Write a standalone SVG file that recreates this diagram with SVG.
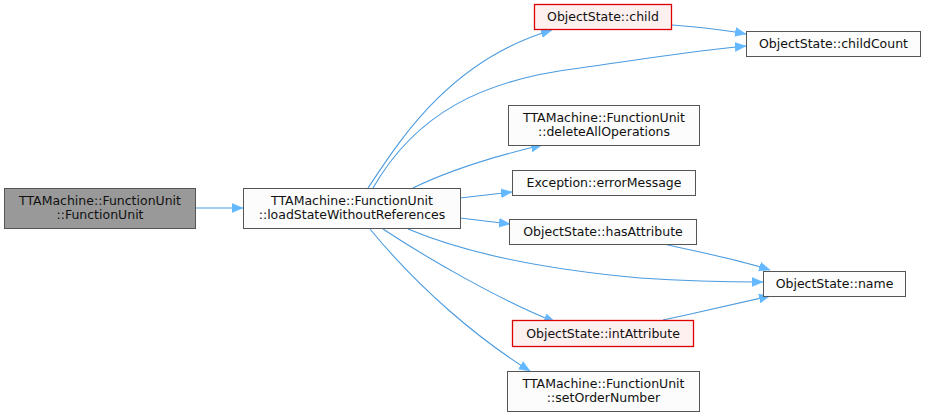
<svg xmlns="http://www.w3.org/2000/svg" width="927" height="417" viewBox="0 0 927 417">
<style>
.n{fill:#fbfcfb;stroke:#555555;stroke-width:1}
.g{fill:#999999;stroke:#555555;stroke-width:1}
.r{fill:#fff0f0;stroke:#dd0000;stroke-width:1.3}
text{font-family:"DejaVu Sans",sans-serif;font-size:12.5px;fill:#111111;text-anchor:middle}
.e{fill:none;stroke:#4a9be0;stroke-width:1.1}
</style>
<defs>
<marker id="a" markerUnits="userSpaceOnUse" markerWidth="12" markerHeight="10" refX="11" refY="5" orient="auto">
<path d="M0,0.5 L11,5 L0,9.5 Z" fill="#63b8ff" stroke="#63b8ff" stroke-width="0.5"/>
</marker>
</defs>
<rect width="927" height="417" fill="#ffffff"/>
<g id="edges">
<path class="e" marker-end="url(#a)" d="M196,208 L243,208"/>
<path class="e" marker-end="url(#a)" d="M368,188 C400,140 450,60 552,30"/>
<path class="e" marker-end="url(#a)" d="M373,188 C415,115 480,80 580,68 C650,58 700,50 746,46"/>
<path class="e" marker-end="url(#a)" d="M672,25 C700,27 725,30 746,34"/>
<path class="e" marker-end="url(#a)" d="M413,188 C450,170 500,155 542,145"/>
<path class="e" marker-end="url(#a)" d="M460,198 L512,192"/>
<path class="e" marker-end="url(#a)" d="M460,218 L510,224"/>
<path class="e" marker-end="url(#a)" d="M408,229 C470,255 550,270 640,278 C700,282 740,282 763,282"/>
<path class="e" marker-end="url(#a)" d="M663,244 C700,252 740,260 770,270"/>
<path class="e" marker-end="url(#a)" d="M383,229 C430,260 500,300 555,322"/>
<path class="e" marker-end="url(#a)" d="M663,320 C700,312 740,303 770,296"/>
<path class="e" marker-end="url(#a)" d="M370,229 C420,290 480,340 530,371"/>
</g>
<g id="n_functionunit">
<rect class="g" x="4.5" y="188.5" width="191" height="40"/>
<text x="100" y="205">TTAMachine::FunctionUnit</text>
<text x="100" y="219">::FunctionUnit</text>
</g>
<g id="n_loadstate">
<rect class="n" x="243.5" y="188.5" width="217" height="40"/>
<text x="352" y="205">TTAMachine::FunctionUnit</text>
<text x="352" y="219">::loadStateWithoutReferences</text>
</g>
<g id="n_child">
<rect class="r" x="534.5" y="4.5" width="137" height="25"/>
<text x="603" y="21">ObjectState::child</text>
</g>
<g id="n_childcount">
<rect class="n" x="746.5" y="31.5" width="174" height="25"/>
<text x="833.5" y="48">ObjectState::childCount</text>
</g>
<g id="n_deleteall">
<rect class="n" x="508.5" y="105.5" width="191" height="40"/>
<text x="604" y="122">TTAMachine::FunctionUnit</text>
<text x="604" y="136">::deleteAllOperations</text>
</g>
<g id="n_errormessage">
<rect class="n" x="512.5" y="170.5" width="183" height="25"/>
<text x="604" y="187">Exception::errorMessage</text>
</g>
<g id="n_hasattribute">
<rect class="n" x="509.5" y="219.5" width="187" height="25"/>
<text x="603" y="236">ObjectState::hasAttribute</text>
</g>
<g id="n_name">
<rect class="n" x="763.5" y="271.5" width="142" height="25"/>
<text x="834.5" y="288">ObjectState::name</text>
</g>
<g id="n_intattribute">
<rect class="r" x="512.5" y="320.5" width="181" height="26"/>
<text x="603" y="338">ObjectState::intAttribute</text>
</g>
<g id="n_setorder">
<rect class="n" x="507.5" y="371.5" width="192" height="40"/>
<text x="603.5" y="388">TTAMachine::FunctionUnit</text>
<text x="603.5" y="402">::setOrderNumber</text>
</g>
</svg>
